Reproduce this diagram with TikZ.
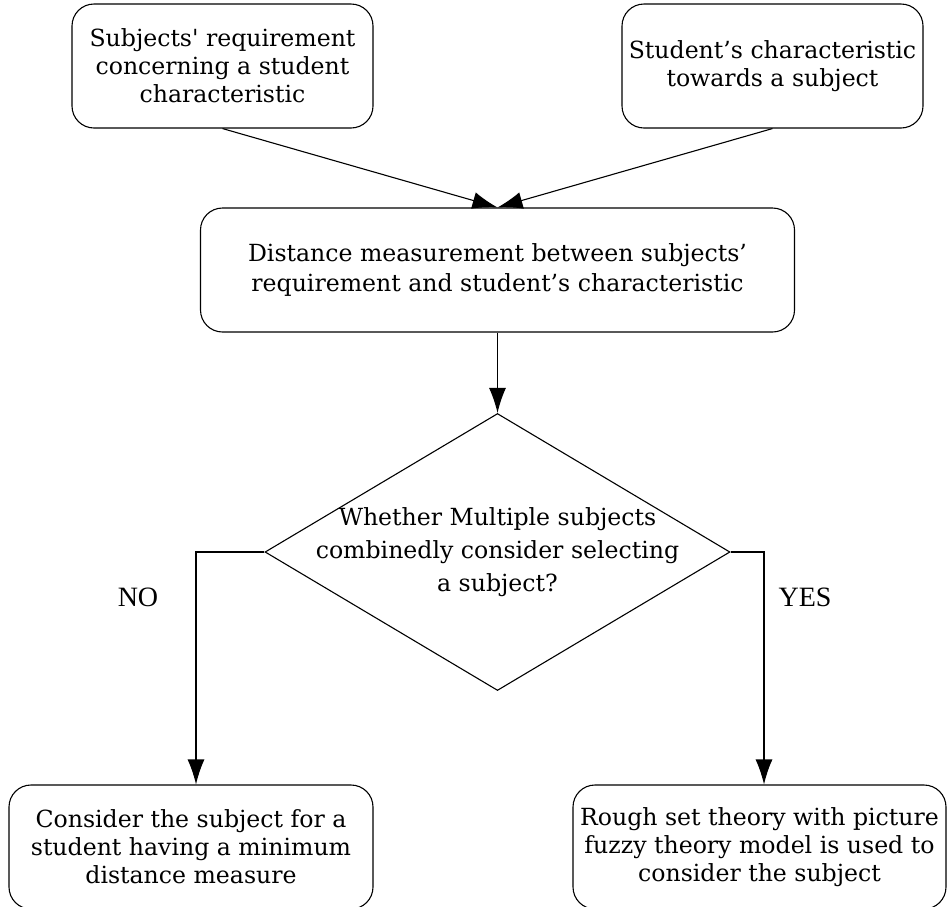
\documentclass[tikz,border=0pt]{standalone}
\usepackage{fontspec}
\setmainfont{DejaVu Serif}
\newfontfamily\labelfont{Liberation Serif}
\usetikzlibrary{shapes.geometric}
\usetikzlibrary{arrows.meta}

\begin{document}
\begin{tikzpicture}[x=0.5pt, y=-0.5pt,
    box/.style={draw, line width=0.55pt, rounded corners=11pt, fill=white, align=center,
        minimum height=62pt, font=\fontsize{11.8}{14}\selectfont},
    choice/.style={draw, diamond, line width=0.55pt, minimum width=232.5pt, minimum height=138.5pt},
    answer/.style={font=\labelfont\fontsize{14}{16}\selectfont},
    arr/.style={-{Latex[length=12.5pt, width=8.5pt]}, line width=0.55pt}]
    \useasboundingbox (0,0) rectangle (948,906);
    \node[box, minimum width=150.5pt] (req) at (222.5,66) {Subjects\textquotesingle{} requirement\\concerning a student\\characteristic};
    \node[box, minimum width=150.5pt] (chr) at (772.5,66) {Student’s characteristic\\towards a subject};
    \node[box, minimum width=297pt, font=\fontsize{11.8}{15}\selectfont] (dist) at (497.5,270) {Distance measurement between subjects’\\requirement and student’s characteristic};
    \node[choice] (dec) at (497.5,552) {};
    \node[align=center, font=\fontsize{11.8}{16.5}\selectfont] (ask) at (dec.center) {Whether Multiple subjects\\combinedly consider selecting\\a subject?};
    \node[box, minimum width=182pt] (mind) at (191,847) {Consider the subject for a\\student having a minimum\\distance measure};
    \node[box, minimum width=186.5pt] (rough) at (759.5,847) {Rough set theory with picture\\fuzzy theory model is used to\\consider the subject};
    \node[answer] (no) at (138,597) {NO};
    \node[answer] (yes) at (805,597) {YES};

    \draw[arr] (req.south) -- (dist.north);
    \draw[arr] (chr.south) -- (dist.north);
    \draw[arr] (dist.south) -- (dec.north);
    \draw[arr] (dec.west) -| ([xshift=2.5pt]mind.north);
    \draw[arr] (dec.east) -| ([xshift=2.25pt]rough.north);
\end{tikzpicture}
\end{document}
